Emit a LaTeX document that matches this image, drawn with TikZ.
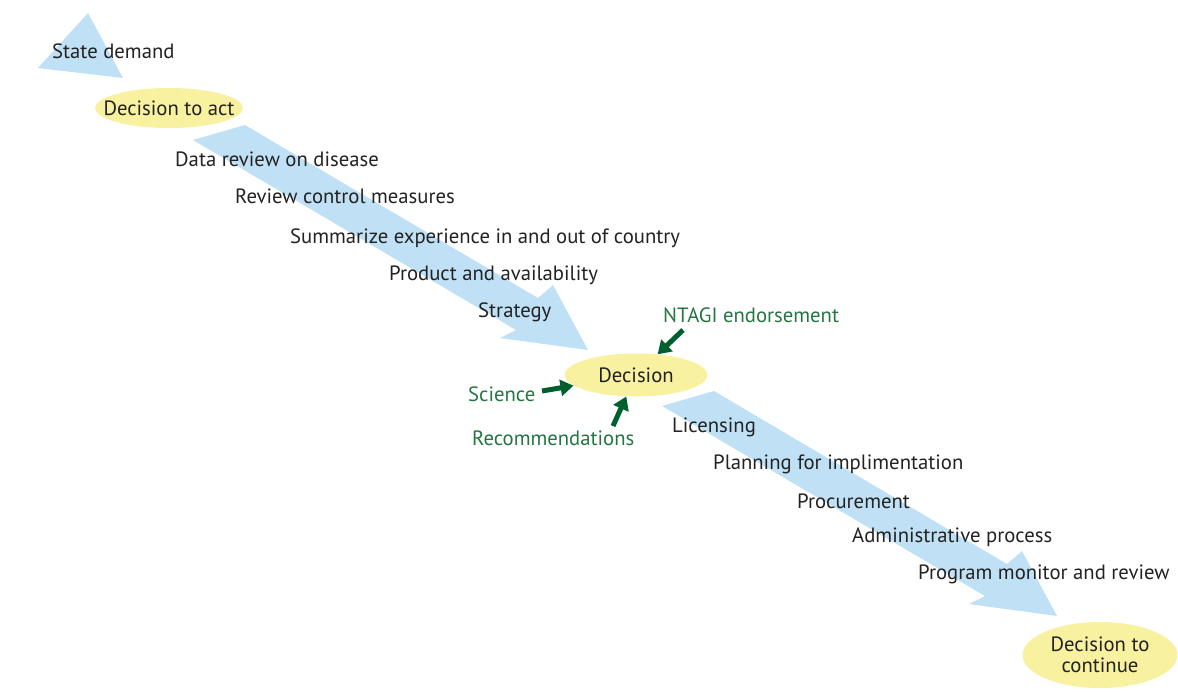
\documentclass[tikz,border=0pt]{standalone}
\usepackage{fontspec}
\setmainfont{PT Sans}
\usetikzlibrary{shapes.geometric,arrows.meta}
\definecolor{flowblue}{RGB}{192,225,245}
\definecolor{decyellow}{RGB}{248,241,160}
\definecolor{inktext}{RGB}{34,34,34}
\definecolor{inkgreen}{RGB}{35,118,66}
\definecolor{arrowgreen}{RGB}{0,96,45}
\newcommand{\labelsize}{\fontsize{20.7}{23}\selectfont}
\tikzset{
  flow/.style={fill=flowblue, draw=none},
  decision/.style={ellipse, fill=decyellow, draw=none, inner sep=0pt,
    label={[text=inktext, font=\labelsize, align=center]center:#1}},
  step label/.style={anchor=west, inner sep=0pt, text=inktext, font=\labelsize},
  input label/.style={anchor=west, inner sep=0pt, text=inkgreen, font=\labelsize},
  input arrow/.style={draw=arrowgreen, line width=5pt,
    -{Triangle[length=13pt,width=16pt]}},
}
\begin{document}
\begin{tikzpicture}[x=1pt,y=-1pt]
\useasboundingbox (0,0) rectangle (1178,691);

% broad blue flow arrows
\fill[flow] (38,68) -- (88,13) -- (123,78) -- cycle;
\fill[flow] (245,125) -- (538,298) -- (553,285) -- (588,350)
  -- (500,338) -- (516,330) -- (193,140) -- cycle;
\fill[flow] (714,391) -- (1007,564) -- (1022,551) -- (1057,616)
  -- (969,604) -- (985,596) -- (662,406) -- cycle;

% decision points
\node[decision={Decision to act}, minimum width=148pt, minimum height=40pt] (act) at (169,108) {};
\node[decision={Decision}, minimum width=143pt, minimum height=43pt] (dec) at (636,375) {};
\node[decision={Decision to\\[-2pt]continue}, minimum width=155pt, minimum height=66pt] (cont) at (1100,655) {};

% process steps
\node[step label] (demand) at (52,51) {State demand};
\node[step label] (data) at (175,159) {Data review on disease};
\node[step label] (control) at (235,196) {Review control measures};
\node[step label] (summ) at (290,238) {Summarize experience in and out of country};
\node[step label] (prod) at (389,275) {Product and availability};
\node[step label] (strat) at (478,312) {Strategy};
\node[step label] (lic) at (672,427) {Licensing};
\node[step label] (plan) at (713,464) {Planning for implimentation};
\node[step label] (proc) at (797,501) {Procurement};
\node[step label] (admin) at (852,537) {Administrative process};
\node[step label] (prog) at (918,574) {Program monitor and review};

% inputs to the decision
\node[input label] (ntagi) at (663,315) {NTAGI endorsement};
\node[input label] (sci) at (468,394) {Science};
\node[input label] (rec) at (472,438) {Recommendations};

\coordinate (ntagi-from) at (683,330);
\coordinate (sci-from) at (542,391);
\coordinate (rec-from) at (613,426);
\draw[input arrow] (ntagi-from) -- (dec);
\draw[input arrow] (sci-from) -- (dec);
\draw[input arrow] (rec-from) -- (dec);
\end{tikzpicture}
\end{document}
